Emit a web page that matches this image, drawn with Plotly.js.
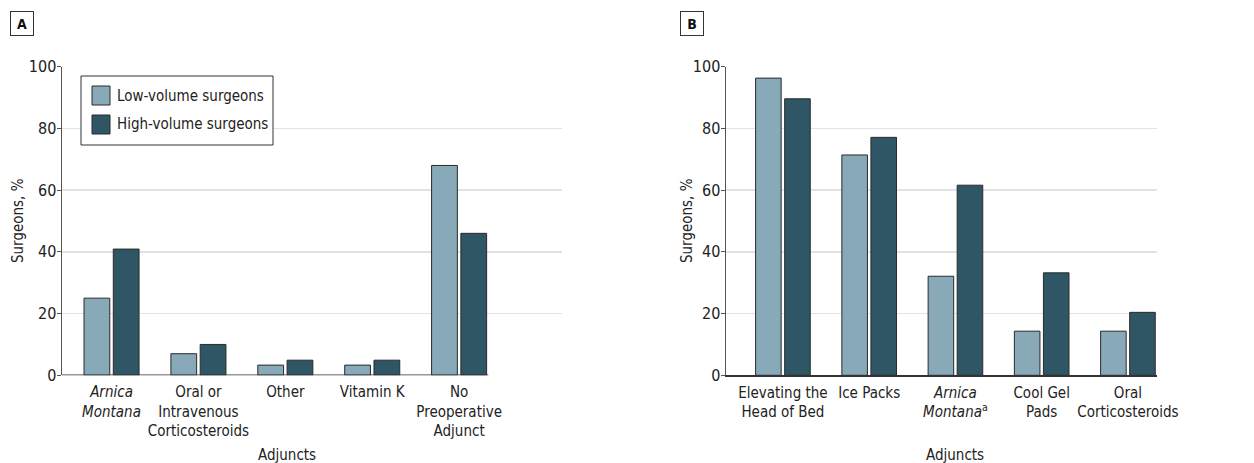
<!DOCTYPE html>
<html>
<head>
<meta charset="utf-8">
<script src="https://cdn.plot.ly/plotly-3.0.1.min.js"></script>
<style>html,body{margin:0;padding:0;background:#fff;}#chart{width:1254px;height:463px;}</style>
</head>
<body>
<div id="chart"></div>
<script>
// Panel A data
const catsA = ["Arnica Montana", "Oral or Intravenous Corticosteroids", "Other", "Vitamin K", "No Preoperative Adjunct"];
const tickTextA = ["<i>Arnica</i><br><i>Montana</i>", "Oral or<br>Intravenous<br>Corticosteroids", "Other", "Vitamin K", "No<br>Preoperative<br>Adjunct"];
const lowA = [25, 7, 3.3, 3.3, 68];
const highA = [40.9, 10, 4.9, 4.9, 46];

// Panel B data
const catsB = ["Elevating the Head of Bed", "Ice Packs", "Arnica Montana", "Cool Gel Pads", "Oral Corticosteroids"];
const tickTextB = ["Elevating the<br>Head of Bed", "Ice Packs", "<i>Arnica</i><br><i>Montana</i><sup>a</sup>", "Cool Gel<br>Pads", "Oral<br>Corticosteroids"];
const lowB = [96.3, 71.4, 32.1, 14.3, 14.3];
const highB = [89.6, 77.1, 61.6, 33.2, 20.4];

const seriesNames = ["Low-volume surgeons", "High-volume surgeons"];
const yTicks = [0, 20, 40, 60, 80, 100];
const xTitle = "Adjuncts";
const yTitle = "Surgeons, %";

const FONT = '"DejaVu Sans Condensed", "Liberation Sans Narrow", "Roboto", sans-serif';
const LOW_COLOR = '#87a9b8';
const HIGH_COLOR = '#2f5665';
const EDGE = '#2a2a2a';
const W = 1254, H = 463;
const px = v => v / W;
const py = v => (H - v) / H;

function bar(x, y, name, color, xa, ya) {
  return {
    type: 'bar', x: x, y: y, name: name, xaxis: xa, yaxis: ya,
    marker: {color: color, line: {color: EDGE, width: 1}},
    showlegend: false, hoverinfo: 'x+y'
  };
}

const data = [
  bar(catsA, lowA, seriesNames[0], LOW_COLOR, 'x', 'y'),
  bar(catsA, highA, seriesNames[1], HIGH_COLOR, 'x', 'y'),
  bar(catsB, lowB, seriesNames[0], LOW_COLOR, 'x2', 'y2'),
  bar(catsB, highB, seriesNames[1], HIGH_COLOR, 'x2', 'y2')
];

const yDom = [py(375.3), py(66.7)];

function yAxis(anchor) {
  return {
    anchor: anchor, domain: yDom, range: [0, 100],
    tickvals: yTicks, ticks: 'outside', ticklen: 4, tickcolor: '#555', tickwidth: 1,
    ticklabelstandoff: -3,
    showline: true, linecolor: '#555', linewidth: 1.5,
    showgrid: true, gridcolor: '#e2e2e2', gridwidth: 1.5, zeroline: false,
    tickfont: {family: FONT, size: 16, color: '#222'},
    automargin: false, fixedrange: true
  };
}
function xAxis(anchor, dom, range, cats, ticktext, showline) {
  return {
    anchor: anchor, domain: dom, type: 'category', range: range,
    tickvals: cats, ticktext: ticktext, ticks: 'outside', ticklen: 3, tickcolor: 'rgba(0,0,0,0)',
    showline: showline, linecolor: '#333', linewidth: 1.5,
    showgrid: false, zeroline: false,
    tickfont: {family: FONT, size: 15, color: '#222'},
    automargin: false, fixedrange: true
  };
}

// custom legend built from the series names and colours
const legendShapes = [
  {type: 'rect', xref: 'paper', yref: 'paper', x0: px(81), x1: px(273), y0: py(145), y1: py(76),
   line: {color: '#333', width: 1}, fillcolor: '#fff', layer: 'above'}
];
const legendAnn = [];
[LOW_COLOR, HIGH_COLOR].forEach((c, i) => {
  const top = 86 + i * 29;
  legendShapes.push({type: 'rect', xref: 'paper', yref: 'paper',
    x0: px(92), x1: px(110), y0: py(top + 19), y1: py(top),
    line: {color: EDGE, width: 1}, fillcolor: c, layer: 'above'});
  legendAnn.push({text: seriesNames[i], xref: 'paper', yref: 'paper',
    x: px(115), y: py(top + 9.5), xanchor: 'left', yanchor: 'middle', showarrow: false,
    font: {family: FONT, size: 15, color: '#222'}});
});

function panelLabel(t, cx) {
  return {text: '<b>' + t + '</b>', xref: 'paper', yref: 'paper', x: px(cx), y: py(24),
    xanchor: 'center', yanchor: 'middle', showarrow: false, width: 20, height: 21,
    bordercolor: '#333', borderwidth: 1, borderpad: 1, bgcolor: '#fff',
    font: {family: FONT, size: 14, color: '#111'}};
}
function axisTitleX(cx) {
  return {text: xTitle, xref: 'paper', yref: 'paper', x: px(cx), y: py(455),
    xanchor: 'center', yanchor: 'middle', showarrow: false,
    font: {family: FONT, size: 15, color: '#222'}};
}
function axisTitleY(cx) {
  return {text: yTitle, xref: 'paper', yref: 'paper', x: px(cx), y: py(221),
    xanchor: 'center', yanchor: 'middle', showarrow: false, textangle: -90,
    font: {family: FONT, size: 15, color: '#222'}};
}

const layout = {
  width: W, height: H,
  margin: {l: 0, r: 0, t: 0, b: 0},
  paper_bgcolor: '#fff', plot_bgcolor: '#fff',
  font: {family: FONT, size: 15, color: '#222'},
  barmode: 'group', bargap: 0.326, bargroupgap: 0.12,
  showlegend: false,
  xaxis: xAxis('y', [px(62), px(562)], [-0.570, 5.184], catsA, tickTextA, false),
  yaxis: yAxis('x'),
  xaxis2: xAxis('y2', [px(726), px(1157)], [-0.660, 4.337], catsB, tickTextB, true),
  yaxis2: yAxis('x2'),
  shapes: [
    {type: 'line', xref: 'x', yref: 'y', x0: -0.570, x1: 4.336, y0: 0, y1: 0,
     line: {color: '#333', width: 1.5}}
  ].concat(legendShapes),
  annotations: [panelLabel('A', 22), panelLabel('B', 692),
    axisTitleX(287), axisTitleX(955), axisTitleY(18), axisTitleY(687)].concat(legendAnn)
};

Plotly.newPlot('chart', data, layout, {displayModeBar: false, staticPlot: true});
</script>
</body>
</html>
